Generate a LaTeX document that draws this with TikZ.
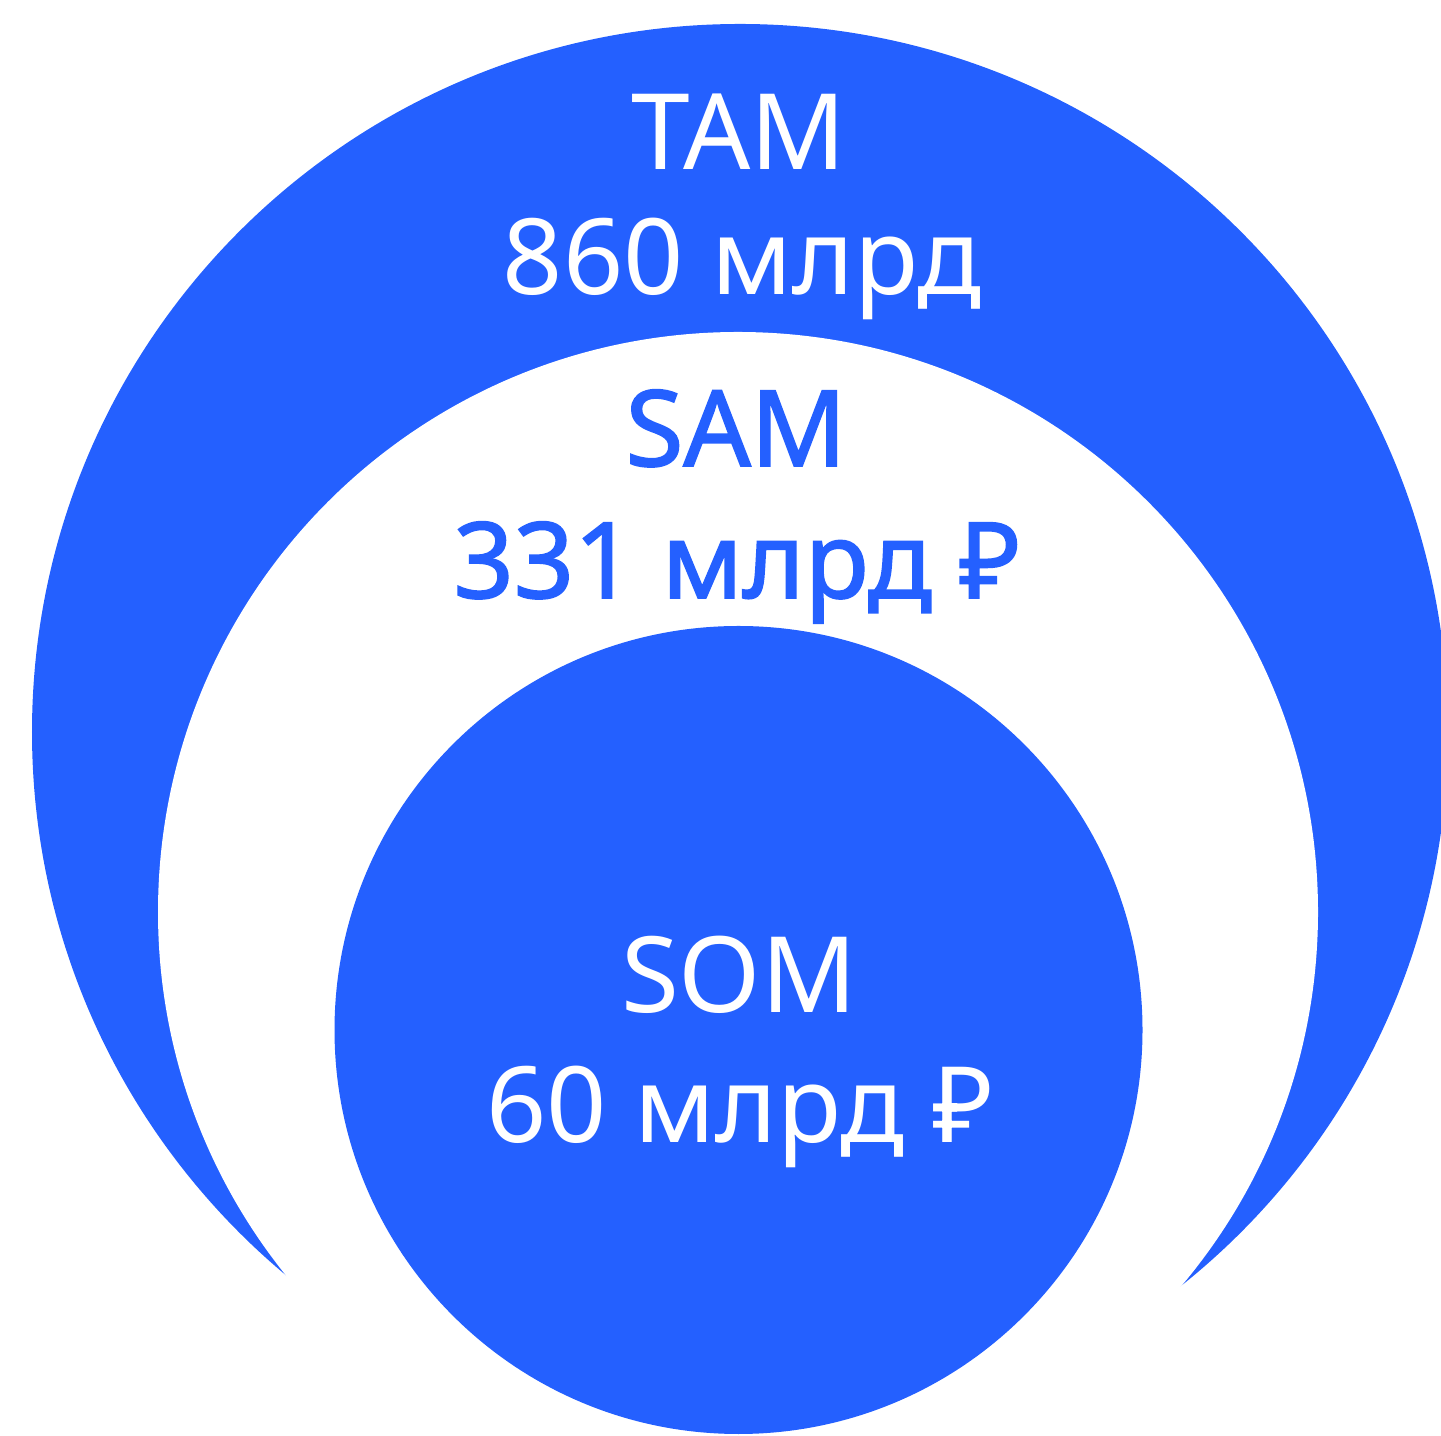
\documentclass[tikz,border=0pt]{standalone}
\usepackage{fontspec}
\setmainfont{Noto Sans}
\newfontfamily\strongfont[FakeBold=1.6]{Noto Sans}
\usepackage{tikz}
\usetikzlibrary{positioning}
\definecolor{market blue}{RGB}{36,96,255}
\tikzset{market/.style={fill=market blue}}
\tikzset{hole/.style={fill=white}}
\tikzset{caption/.style={font=\fontsize{30}{36}\selectfont, anchor=base, inner sep=0pt}}
\tikzset{strong caption/.style={caption, text=market blue, font=\fontsize{30}{36}\selectfont\strongfont}}
\begin{document}
\begin{tikzpicture}
                \useasboundingbox (0, 0) rectangle (14.41, 14.35);
                \clip (0, 0) rectangle (14.41, 14.35);
                \fill[market] (7.40, 7.03) circle (7.08);
                \fill[hole] (7.38, 5.23) circle (5.80);
                \fill[market] (7.385, 4.05) circle (4.04);
                % labels
                \node[caption, text=white] (tam) at (7.39, 12.65) {TAM};
                \node[caption, text=white] (tam value) at (7.42, 11.40) {860 млрд};
                \node[strong caption] (sam) at (7.36, 9.69) {SAM};
                \node[strong caption] (sam value) at (7.37, 8.37) {331 млрд ₽};
                \node[caption, text=white] (som) at (7.39, 4.22) {SOM};
                \node[caption, text=white] (som value) at (7.40, 2.92) {60 млрд ₽};
            \end{tikzpicture}
\end{document}
